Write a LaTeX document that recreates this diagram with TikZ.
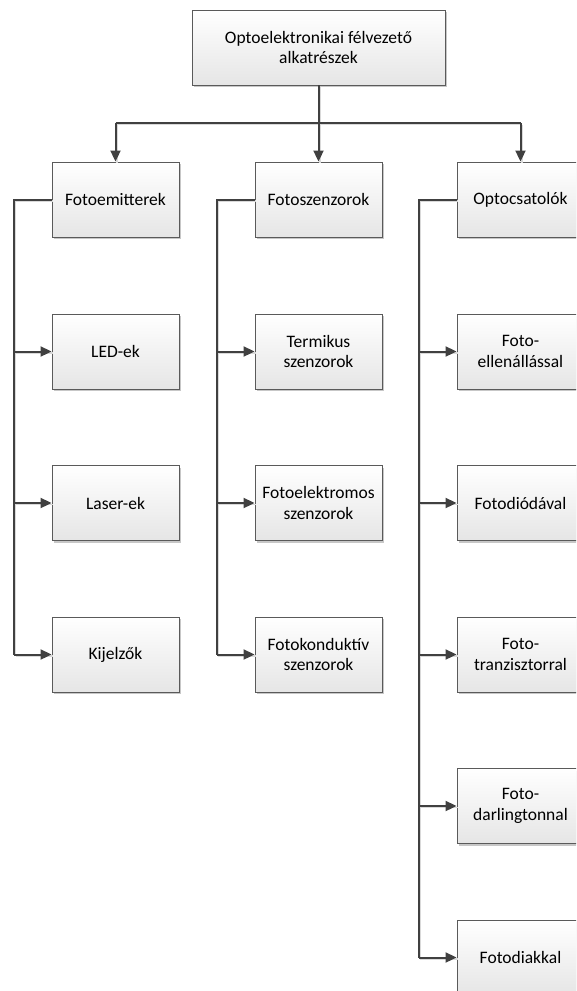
\documentclass[tikz,border=0pt]{standalone}
\usepackage{fontspec}
\setmainfont{Carlito}
\usetikzlibrary{shadows,arrows.meta}
\definecolor{linegray}{HTML}{404040}
\definecolor{boxline}{HTML}{5A5A5A}
\tikzset{
  box/.style={draw=boxline, line width=0.9pt, top color=white, bottom color=black!10,
    minimum width=127pt, minimum height=75pt, inner sep=0pt, align=center,
    font=\fontsize{17.5}{20.5}\selectfont,
    drop shadow={shadow xshift=2pt, shadow yshift=-2pt, fill=black!22, opacity=1}},
  conn/.style={draw=linegray, line width=2pt, -{Triangle[length=11pt,width=10pt]},
    preaction={draw=black!15, line width=1.6pt, -, transform canvas={shift={(1.5pt,-1.5pt)}}}},
  plain/.style={draw=linegray, line width=2pt,
    preaction={draw=black!15, line width=1.6pt, transform canvas={shift={(1.5pt,-1.5pt)}}}}
}
\begin{document}
\begin{tikzpicture}[x=1pt,y=-1pt]
\useasboundingbox (0,0) rectangle (576,991);
\clip (0,0) rectangle (576,991);
\node[box, minimum width=253pt] (top) at (318.5,47.5) {Optoelektronikai félvezető\\alkatrészek};
\coordinate (bus) at (318.5,123);
\node[box] (c1) at (115.5,199.5) {Fotoemitterek};
\node[box] (c2) at (318.5,199.5) {Fotoszenzorok};
\node[box] (c3) at (520.5,199.5) {Optocsatolók};
% column 1
\node[box] (a1) at (115.5,351.5) {LED-ek};
\node[box] (a2) at (115.5,503) {Laser-ek};
\node[box] (a3) at (115.5,654.5) {Kijelzők};
% column 2
\node[box] (b1) at (318.5,351.5) {Termikus\\szenzorok};
\node[box] (b2) at (318.5,503) {Fotoelektromos\\szenzorok};
\node[box] (b3) at (318.5,654.5) {Fotokonduktív\\szenzorok};
% column 3
\node[box] (d1) at (520.5,351.5) {Foto-\\ellenállással};
\node[box] (d2) at (520.5,503) {Fotodiódával};
\node[box] (d3) at (520.5,654.5) {Foto-\\tranzisztorral};
\node[box] (d4) at (520.5,806) {Foto-\\darlingtonnal};
\node[box] (d5) at (520.5,957.5) {Fotodiakkal};
% top connectors
\path[plain] (top.south) -- (bus);
\path[plain] (bus -| c1.north) -- (bus -| c3.north);
\path[conn] (bus) -- (c2.north);
\path[conn] (bus -| c1.north) -- (c1.north);
\path[conn] (bus -| c3.north) -- (c3.north);
% column connectors
\coordinate (k1) at ([xshift=-37.5pt]c1.west);
\coordinate (k2) at ([xshift=-38pt]c2.west);
\coordinate (k3) at ([xshift=-38pt]c3.west);
\path[plain] (c1.west) -- (k1) -- (k1 |- a3.west);
\path[plain] (c2.west) -- (k2) -- (k2 |- b3.west);
\path[plain] (c3.west) -- (k3) -- (k3 |- d5.west);
\foreach \n in {a1,a2,a3} { \path[conn] (k1 |- \n.west) -- (\n.west); }
\foreach \n in {b1,b2,b3} { \path[conn] (k2 |- \n.west) -- (\n.west); }
\foreach \n in {d1,d2,d3,d4,d5} { \path[conn] (k3 |- \n.west) -- (\n.west); }
\end{tikzpicture}
\end{document}
